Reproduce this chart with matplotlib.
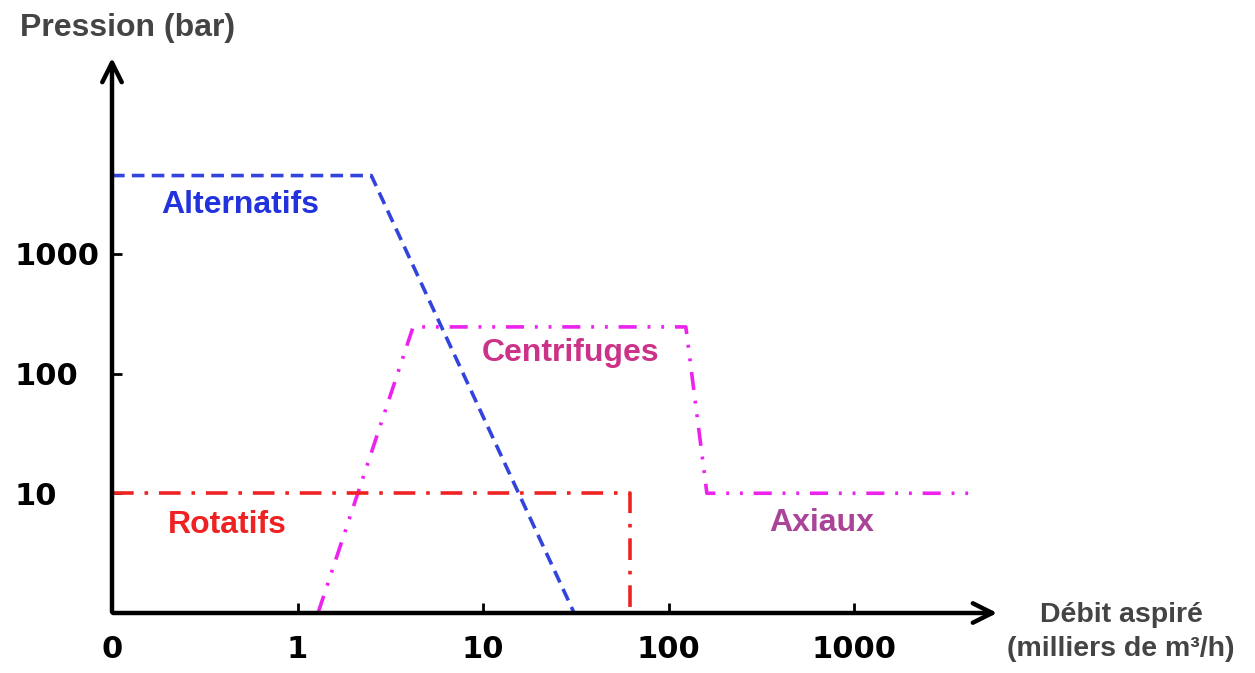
import numpy as np
import matplotlib
matplotlib.use("Agg")
import matplotlib.pyplot as plt

# valeurs (échelles log)
alt_x = [0.1, 2.5, 31]
alt_y = [4500, 4500, 1]
cen_x = [1.29, 4.2, 124, 161, 4500]
cen_y = [1, 245, 245, 10, 10]
rot_x = [0.1, 62, 62]
rot_y = [10, 10, 1]

xticks = [0.1, 1, 10, 100, 1000]
xlabels = ["0", "1", "10", "100", "1000"]
yticks = [10, 100, 1000]
ylabels = ["10", "100", "1000"]

W, H = 1255, 673
fig = plt.figure(figsize=(W / 100, H / 100), dpi=100)
ax = fig.add_axes([112 / W, 60 / H, 888 / W, 558 / H])
ax.set_xscale("log")
ax.set_yscale("log")
ax.set_xlim(0.1, 6124)
ax.set_ylim(1, 45700)

ax.plot(alt_x, alt_y, color="#3344dd", lw=2.6, linestyle=(0, (3.5, 2)))
ax.plot(cen_x, cen_y, color="#ee22ee", lw=2.6, linestyle=(0, (5, 3, 0.8, 3, 0.8, 3)))
ax.plot(rot_x, rot_y, color="#ee2222", lw=2.6, linestyle=(0, (6, 3, 1, 3)))

txt = dict(fontsize=23, fontweight="bold", family="Liberation Sans", ha="center", va="center")
ax.text(0.49, 2570, "Alternatifs", color="#2233dd", **txt)
ax.text(29.5, 148, "Centrifuges", color="#cc3388", **txt)
ax.text(0.42, 5.4, "Rotatifs", color="#ee2222", **txt)
ax.text(672, 5.6, "Axiaux", color="#aa4499", **txt)

for s in ax.spines.values():
    s.set_visible(False)
ax.annotate("", xy=(1, 0), xytext=(-0.002, 0), xycoords="axes fraction",
            arrowprops=dict(arrowstyle="->", lw=3.2, color="black", mutation_scale=35))
ax.annotate("", xy=(0, 1), xytext=(0, -0.003), xycoords="axes fraction",
            arrowprops=dict(arrowstyle="->", lw=3.2, color="black", mutation_scale=35))

ax.set_xticks(xticks)
ax.set_xticklabels(xlabels)
ax.set_yticks(yticks)
ax.set_yticklabels(ylabels)
ax.minorticks_off()
ax.tick_params(direction="in", length=7, width=2, labelsize=22, pad=16)
ax.tick_params(axis="y", pad=70)
for lab in ax.get_xticklabels() + ax.get_yticklabels():
    lab.set_fontweight("bold")
for lab in ax.get_yticklabels():
    lab.set_horizontalalignment("left")
ax.get_xticklines()[0].set_visible(False)

fig.text(20 / W, 1 - 28 / H, "Pression (bar)", fontsize=23, fontweight="bold",
         family="Liberation Sans", color="#444444", ha="left", va="center")
fig.text(1121 / W, 1 - 632 / H, "Débit aspiré\n(milliers de m³/h)", fontsize=20.5,
         fontweight="bold", family="Liberation Sans", color="#444444",
         ha="center", va="center", multialignment="center", linespacing=1.35)

fig.savefig("out.png", dpi=100)
